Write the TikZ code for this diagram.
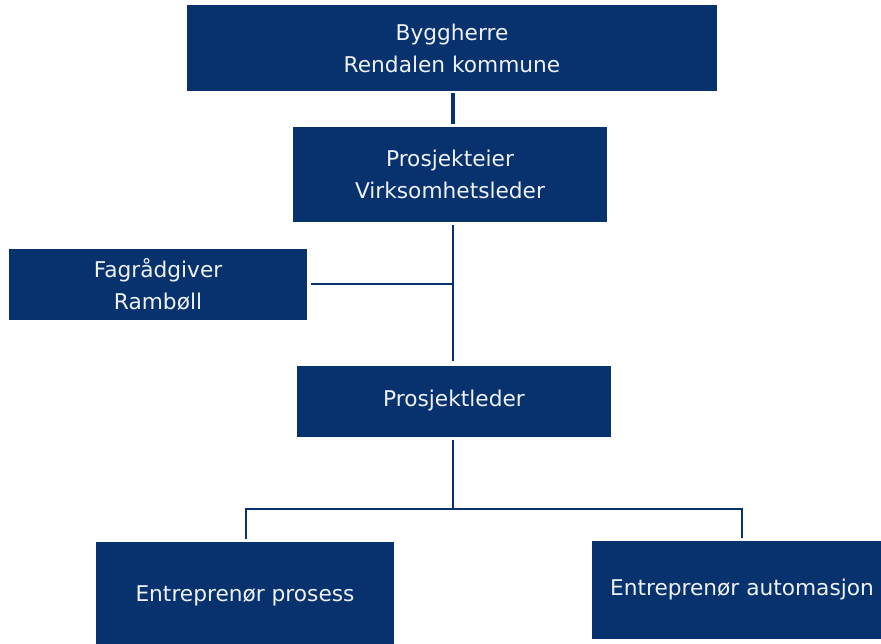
\documentclass[tikz,border=0pt]{standalone}
\usepackage{fontspec}
\setmainfont{DejaVu Sans}
\definecolor{navy}{HTML}{08326E}
\definecolor{boxtext}{HTML}{EEF2F8}
\begin{document}
\begin{tikzpicture}[x=1pt,y=-1pt,
  box/.style={fill=navy, draw=none, text=boxtext, font=\fontsize{21.7}{32}\selectfont, align=center, inner sep=0pt},
  link/.style={draw=navy, line width=2.3pt}]
\useasboundingbox (0,0) rectangle (881,644);
\fill[white] (0,0) rectangle (881,644);
\node[box, minimum width=530pt, minimum height=86pt] (bh) at (452,48) {Byggherre\\Rendalen kommune};
\node[box, minimum width=314pt, minimum height=95pt] (pe) at (450,174.5) {Prosjekteier\\Virksomhetsleder};
\node[box, minimum width=298pt, minimum height=71pt] (fag) at (158,284.5) {Fagrådgiver\\Rambøll};
\node[box, minimum width=314pt, minimum height=71pt] (pl) at (454,401) {Prosjektleder};
\node[box, minimum width=298pt, minimum height=108pt] (ep) at (245,596) {Entreprenør prosess};
\node[box, minimum width=290pt, minimum height=98pt] (ea) at (737,590) {\hspace*{10pt}Entreprenør automasjon};
\coordinate (j1) at (453,284);
\coordinate (j2) at (453,509);
\coordinate (j3) at (246,509);
\coordinate (j4) at (742,509);
\draw[link, line width=3.5pt, shorten <=2pt, shorten >=3pt] (bh.south -| j1) -- (pe.north -| j1);
\draw[link, shorten <=3pt, shorten >=4pt] (pe.south -| j1) -- (pl.north -| j1);
\draw[link, shorten <=4pt] (fag.east |- j1) -- (j1);
\draw[link, shorten <=3pt] (pl.south -| j2) -- (j2);
\draw[link, shorten <=3pt, shorten >=3pt] (ep.north -| j3) -- (j3) -- (j4) -- (ea.north -| j4);
\end{tikzpicture}
\end{document}
